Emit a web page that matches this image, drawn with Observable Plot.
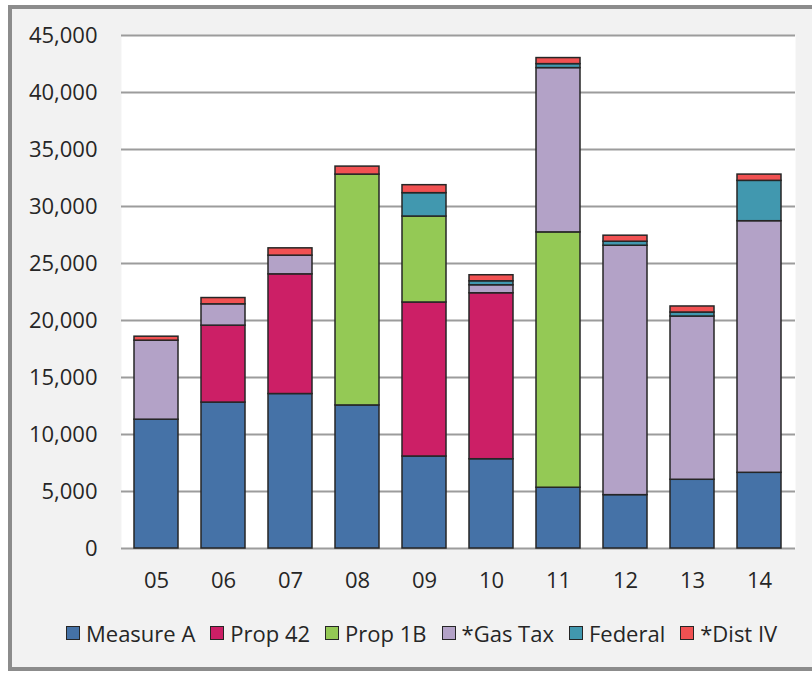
<!DOCTYPE html>
<html>
<head>
<meta charset="utf-8">
<script src="https://cdn.jsdelivr.net/npm/d3@7"></script>
<script src="https://cdn.jsdelivr.net/npm/@observablehq/plot@0.6"></script>
<style>
  html, body { margin: 0; padding: 0; background: #ffffff; width: 812px; height: 673px; overflow: hidden; }
  #frame { position: absolute; left: 8px; top: 5px; width: 900px; height: 658px; background: #f2f2f2; border: 4px solid #8c8c8c; }
  #chart { position: absolute; left: 0; top: 0; }
  #legend { position: absolute; left: 66px; top: 618px; display: flex; align-items: center; font-family: "Open Sans", sans-serif; font-size: 22px; color: #262626; white-space: nowrap; }
  .item { display: flex; align-items: center; margin-right: 15px; }
  .sw { width: 12px; height: 12px; border: 1.5px solid #262626; margin-right: 6px; }
</style>
</head>
<body>
<div id="frame"></div>
<div id="chart"></div>
<div id="legend"></div>
<script>
const years = ["05","06","07","08","09","10","11","12","13","14"];
const seriesNames = ["Measure A","Prop 42","Prop 1B","*Gas Tax","Federal","*Dist IV"];
const seriesColors = ["#4572a7","#cc1f66","#94c955","#b3a2c7","#4198af","#f15152"];
const measureA = [11300, 12800, 13550, 12550, 8070, 7830, 5330, 4680, 6030, 6640];
const prop42   = [0, 6750, 10500, 0, 13510, 14560, 0, 0, 0, 0];
const prop1B   = [0, 0, 0, 20250, 7540, 0, 22400, 0, 0, 0];
const gasTax   = [6930, 1870, 1640, 0, 0, 700, 14410, 21880, 14320, 22070];
const federal  = [0, 0, 0, 0, 2050, 350, 350, 350, 350, 3540];
const distIV   = [350, 550, 640, 700, 700, 530, 530, 530, 530, 550];
const yTicks = [0, 5000, 10000, 15000, 20000, 25000, 30000, 35000, 40000, 45000];

const seriesValues = [measureA, prop42, prop1B, gasTax, federal, distIV];
const data = [];
years.forEach((yr, i) => {
  seriesNames.forEach((s, j) => {
    const v = seriesValues[j][i];
    if (v > 0) data.push({year: yr, series: s, value: v});
  });
});

const chart = Plot.plot({
  width: 812,
  height: 600,
  marginLeft: 121,
  marginRight: 17,
  marginTop: 35,
  marginBottom: 52,
  style: {background: "transparent", fontFamily: "'Open Sans', sans-serif", fontSize: "22px", color: "#262626", overflow: "visible"},
  x: {domain: years, paddingInner: 0.34, paddingOuter: 0.17, tickSize: 0, tickPadding: 24, label: null},
  y: {domain: [0, 45000], ticks: yTicks, tickFormat: d3.format(","), tickSize: 0, tickPadding: 24, label: null},
  color: {domain: seriesNames, range: seriesColors},
  marks: [
    Plot.frame({fill: "white", stroke: null}),
    Plot.ruleY(yTicks, {stroke: "#9c9c9c", strokeWidth: 2}),
    Plot.barY(data, {x: "year", y: "value", fill: "series", stroke: "#262626", strokeWidth: 1.5, inset: 0})
  ]
});
document.getElementById("chart").appendChild(chart);

const legend = document.getElementById("legend");
seriesNames.forEach((s, j) => {
  const item = document.createElement("div");
  item.className = "item";
  const sw = document.createElement("div");
  sw.className = "sw";
  sw.style.background = seriesColors[j];
  const t = document.createElement("span");
  t.textContent = s;
  item.appendChild(sw);
  item.appendChild(t);
  legend.appendChild(item);
});
</script>
</body>
</html>
